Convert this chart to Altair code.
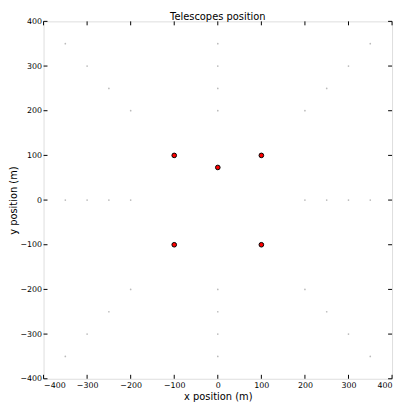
import altair as alt
import pandas as pd

# Telescope positions (red)
tel_x = [-100, 100, 0, -100, 100]
tel_y = [100, 100, 73, -100, -100]

# Grid of candidate positions (light gray)
grid_x = [-350, -300, -250, -200, 200, 250, 300, 350,
          -350, -300, -250, -200, 200, 250, 300, 350,
          0, 0, 0, 0, 0, 0, 0, 0,
          -350, -300, -250, -200,
          350, 300, 250, 200]
grid_y = [0, 0, 0, 0, 0, 0, 0, 0,
          350, 300, 250, 200, 200, 250, 300, 350,
          350, 300, 250, 200, -200, -250, -300, -350,
          -350, -300, -250, -200,
          -350, -300, -250, -200]

ticks = [-400, -300, -200, -100, 0, 100, 200, 300, 400]

W, H = 353, 362
FONT = "DejaVu Sans"

grid = pd.DataFrame({"x": grid_x, "y": grid_y})
tel = pd.DataFrame({"x": tel_x, "y": tel_y})
tk = pd.DataFrame({"t": ticks})

xs = alt.Scale(domain=[-400, 400], nice=False, zero=False)
ys = alt.Scale(domain=[-400, 400], nice=False, zero=False)

xaxis = alt.Axis(values=ticks, ticks=False, domain=False, grid=False,
                 labelFontSize=8, labelColor="black", labelPadding=3,
                 labelFont=FONT, titleFont=FONT, titleFontSize=10,
                 titleFontWeight="normal", titleColor="black", titlePadding=2)
yaxis = alt.Axis(values=ticks, ticks=False, domain=False, grid=False,
                 labelFontSize=8, labelColor="black", labelPadding=2,
                 labelFont=FONT, titleFont=FONT, titleFontSize=10,
                 titleFontWeight="normal", titleColor="black", titlePadding=1)

base_grid = alt.Chart(grid).mark_point(
    filled=True, shape="circle", size=3, color="#bbbbbb", opacity=1
).encode(
    x=alt.X("x:Q", scale=xs, axis=xaxis, title="x position (m)"),
    y=alt.Y("y:Q", scale=ys, axis=yaxis, title="y position (m)"),
)

tels = alt.Chart(tel).mark_point(
    filled=True, shape="circle", size=22, fill="#ff0000", stroke="black",
    strokeWidth=1, opacity=1
).encode(x=alt.X("x:Q", scale=xs), y=alt.Y("y:Q", scale=ys))

tick_style = dict(color="black", strokeWidth=1)
top_t = alt.Chart(tk).mark_rule(**tick_style).encode(
    x=alt.X("t:Q", scale=xs), y=alt.value(0), y2=alt.value(4))
bot_t = alt.Chart(tk).mark_rule(**tick_style).encode(
    x=alt.X("t:Q", scale=xs), y=alt.value(H), y2=alt.value(H - 4))
left_t = alt.Chart(tk).mark_rule(**tick_style).encode(
    y=alt.Y("t:Q", scale=ys), x=alt.value(0), x2=alt.value(4))
right_t = alt.Chart(tk).mark_rule(**tick_style).encode(
    y=alt.Y("t:Q", scale=ys), x=alt.value(W), x2=alt.value(W - 4))

chart = alt.layer(base_grid, top_t, bot_t, left_t, right_t, tels).properties(
    width=W, height=H,
    title=alt.TitleParams("Telescopes position", font=FONT, fontSize=10,
                          fontWeight="normal", color="black", offset=0, dy=5),
    autosize=alt.AutoSizeParams(type="none"),
    padding={"left": 36, "top": 11, "right": 4, "bottom": 22},
).configure_view(stroke="black", strokeWidth=1.2).configure(background="white")

chart.save("out.html", embed_options={"renderer": "svg", "actions": False})
